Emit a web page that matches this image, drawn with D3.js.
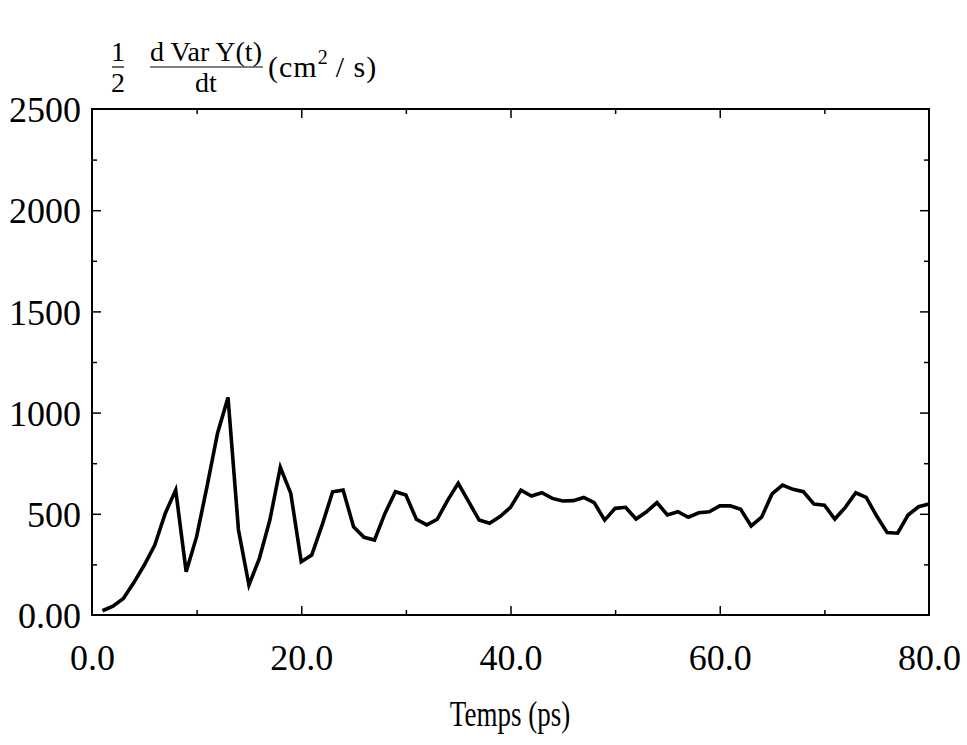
<!DOCTYPE html>
<html><head><meta charset="utf-8">
<script src="https://cdn.jsdelivr.net/npm/d3@7"></script>
<style>body{margin:0;background:#fff}svg text{font-family:"Liberation Serif","Times New Roman",serif;fill:#000}</style>
</head><body><svg id="c" width="967" height="745"></svg>
<script>
const times = [1,2,3,4,5,6,7,8,9,10,11,12,13,14,15,16,17,18,19,20,21,22,23,24,25,26,27,28,29,30,31,32,33,34,35,36,37,38,39,40,41,42,43,44,45,46,47,48,49,50,51,52,53,54,55,56,57,58,59,60,61,62,63,64,65,66,67,68,69,70,71,72,73,74,75,76,77,78,79,80];
const values = [21,44,82,160,247,346,502,617,214,387,637,898,1075,420,148,280,469,730,601,263,296,445,609,617,436,384,370,502,609,593,473,445,473,568,651,560,469,453,486,532,617,588,604,576,563,565,581,555,469,527,532,474,510,555,494,510,483,505,510,539,539,522,440,483,598,642,621,609,548,543,474,532,604,581,489,407,404,494,535,548];
const xMajor = [0,20,40,60,80];
const xMajorLabels = ["0.0","20.0","40.0","60.0","80.0"];
const xMinor = [10,30,50,70];
const yMajor = [0,500,1000,1500,2000,2500];
const yMajorLabels = ["0.00","500","1000","1500","2000","2500"];
const yMinor = [250,750,1250,1750,2250];

const svg = d3.select("#c");
const L=92, R=929, T=109, B=615;
const x = d3.scaleLinear().domain([0,80]).range([L,R]);
const y = d3.scaleLinear().domain([0,2500]).range([B,T]);

svg.append("rect").attr("x",L).attr("y",T).attr("width",R-L).attr("height",B-T)
  .attr("fill","none").attr("stroke","#000").attr("stroke-width",2);

function ticks(axisGen, translate, vals, len){
  svg.append("g").attr("transform",translate)
    .call(axisGen.tickValues(vals).tickSize(len).tickFormat(""))
    .call(g=>{g.select(".domain").remove(); g.selectAll("line").attr("stroke","#000").attr("stroke-width",1.5);});
}
ticks(d3.axisTop(x), `translate(0,${B})`, xMajor.slice(1,-1), 9);
ticks(d3.axisTop(x), `translate(0,${B})`, xMinor, 5);
ticks(d3.axisBottom(x), `translate(0,${T})`, xMajor.slice(1,-1), 9);
ticks(d3.axisBottom(x), `translate(0,${T})`, xMinor, 5);
ticks(d3.axisRight(y), `translate(${L},0)`, yMajor.slice(1,-1), 9);
ticks(d3.axisRight(y), `translate(${L},0)`, yMinor, 5);
ticks(d3.axisLeft(y), `translate(${R},0)`, yMajor.slice(1,-1), 9);
ticks(d3.axisLeft(y), `translate(${R},0)`, yMinor, 5);

const xl = svg.append("g").attr("transform",`translate(0,${B})`)
  .call(d3.axisBottom(x).tickValues(xMajor).tickSize(0).tickPadding(0).tickFormat((d,i)=>xMajorLabels[i]));
xl.select(".domain").remove();
xl.selectAll("text").attr("font-size",36).attr("dy",null).attr("y",55)
  .style("font-family","'Liberation Serif',serif").attr("fill","#000");

const yl = svg.append("g").attr("transform",`translate(${L},0)`)
  .call(d3.axisLeft(y).tickValues(yMajor).tickSize(0).tickPadding(11).tickFormat((d,i)=>yMajorLabels[i]));
yl.select(".domain").remove();
yl.selectAll("text").attr("font-size",36).attr("dy","0.35em")
  .style("font-family","'Liberation Serif',serif").attr("fill","#000");

svg.append("path").datum(times.map((t,i)=>[t,values[i]]))
  .attr("d", d3.line().x(d=>x(d[0])).y(d=>y(d[1])))
  .attr("fill","none").attr("stroke","#000").attr("stroke-width",3.6).attr("stroke-linejoin","miter");

svg.append("text").attr("transform","translate(510,726) scale(0.75,1)").attr("text-anchor","middle")
  .attr("font-size",36).text("Temps (ps)");

const fs=28;
const tg = svg.append("g");
tg.append("text").attr("x",118).attr("y",61).attr("text-anchor","middle").attr("font-size",fs).text("1");
tg.append("line").attr("x1",112).attr("x2",124).attr("y1",67).attr("y2",67).attr("stroke","#000").attr("stroke-width",1.2);
tg.append("text").attr("x",118).attr("y",92).attr("text-anchor","middle").attr("font-size",fs).text("2");
tg.append("text").attr("x",206).attr("y",61).attr("text-anchor","middle").attr("font-size",fs).text("d Var Y(t)");
tg.append("line").attr("x1",150).attr("x2",263).attr("y1",67).attr("y2",67).attr("stroke","#000").attr("stroke-width",1.2);
tg.append("text").attr("x",206).attr("y",92).attr("text-anchor","middle").attr("font-size",fs).text("dt");
const u = tg.append("text").attr("x",268).attr("y",77).attr("font-size",30).attr("letter-spacing",1);
u.append("tspan").text("(cm");
u.append("tspan").attr("font-size",20).attr("dy",-13).text("2");
u.append("tspan").attr("dy",13).text("\u2009/ s)");
</script></body></html>
